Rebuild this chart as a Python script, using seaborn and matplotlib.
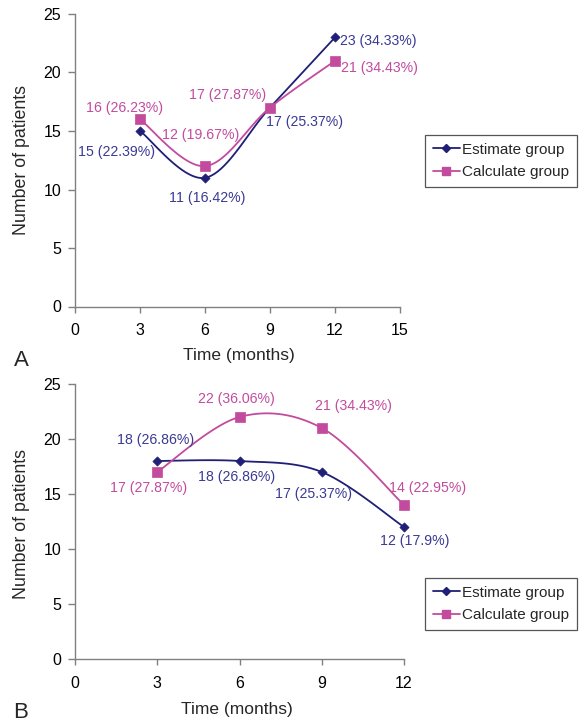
import numpy as np
import matplotlib
matplotlib.use("Agg")
import matplotlib.pyplot as plt
import seaborn as sns
from matplotlib.lines import Line2D

# ---------------- data ----------------
months = [3, 6, 9, 12]
series_names = ["Estimate group", "Calculate group"]

a_estimate = [15, 11, 17, 23]
a_calculate = [16, 12, 17, 21]
a_estimate_labels = ["15 (22.39%)", "11 (16.42%)", "17 (25.37%)", "23 (34.33%)"]
a_calculate_labels = ["16 (26.23%)", "12 (19.67%)", "17 (27.87%)", "21 (34.43%)"]

b_estimate = [18, 18, 17, 12]
b_calculate = [17, 22, 21, 14]
b_estimate_labels = ["18 (26.86%)", "18 (26.86%)", "17 (25.37%)", "12 (17.9%)"]
b_calculate_labels = ["17 (27.87%)", "22 (36.06%)", "21 (34.43%)", "14 (22.95%)"]

x_label = "Time (months)"
y_label = "Number of patients"

# ---------------- style ----------------
sns.set_theme(style="white")
plt.rcParams["font.family"] = ["Liberation Sans", "DejaVu Sans"]

NAVY = "#1f1f78"
NAVY_TXT = "#3a3a94"
MAG = "#c24b9e"
MAG_TXT = "#c24b9e"
GRAY = "#808080"

W, H = 582, 722
fig = plt.figure(figsize=(W / 100, H / 100), dpi=100)

axA = fig.add_axes([75 / W, 1 - 306.5 / H, (400 - 75) / W, (306.5 - 14) / H])
axB = fig.add_axes([75 / W, 1 - 659 / H, (404 - 75) / W, (659 - 384) / H])


def smooth(xs, ys, n=40):
    """Excel-like smoothed line (Catmull-Rom Bezier) through the data points."""
    P = np.column_stack([xs, ys]).astype(float)
    E = np.vstack([P[0], P, P[-1]])
    out = []
    t = np.linspace(0, 1, n)[:, None]
    for i in range(len(P) - 1):
        p0, p1, p2, p3 = E[i], E[i + 1], E[i + 2], E[i + 3]
        c1 = p1 + (p2 - p0) / 6
        c2 = p2 - (p3 - p1) / 6
        seg = (1 - t) ** 3 * p1 + 3 * (1 - t) ** 2 * t * c1 + 3 * (1 - t) * t ** 2 * c2 + t ** 3 * p2
        out.append(seg if i == 0 else seg[1:])
    return np.vstack(out)


def draw_series(ax, xs, ys, color, marker, msize):
    curve = smooth(xs, ys)
    sns.lineplot(x=curve[:, 0], y=curve[:, 1], sort=False, estimator=None,
                 color=color, linewidth=1.3, ax=ax, clip_on=False)
    sns.scatterplot(x=xs, y=ys, marker=marker, s=msize, color=color,
                    edgecolor=color, linewidth=0.5, ax=ax, zorder=5, clip_on=False)


def label_series(ax, xs, ys, labels, offsets, color):
    for x, y, lab, (dx, dy) in zip(xs, ys, labels, offsets):
        ax.annotate(lab, xy=(x, y), xytext=(dx, dy), textcoords="offset pixels",
                    ha="center", va="center", fontsize=10.2, color=color,
                    annotation_clip=False)


def style_axes(ax, xmax, xlab_xy, ylab_xy):
    ax.set_xlim(0, xmax)
    ax.set_ylim(0, 25)
    ax.set_xticks(range(0, xmax + 1, 3))
    ax.set_yticks(range(0, 26, 5))
    for s in ["top", "right"]:
        ax.spines[s].set_visible(False)
    for s in ["left", "bottom"]:
        ax.spines[s].set_color(GRAY)
        ax.spines[s].set_linewidth(1.0)
    ax.tick_params(axis="both", which="major", direction="out", color=GRAY,
                   labelsize=11.5, labelcolor="black", width=1.0,
                   bottom=True, left=True)
    ax.tick_params(axis="x", length=4, pad=8)
    ax.tick_params(axis="y", length=5, pad=5)
    ax.set_xlabel(x_label, fontsize=12.5, va="center")
    ax.set_ylabel(y_label, fontsize=12.8, va="center")
    ax.xaxis.set_label_coords(*xlab_xy)
    ax.yaxis.set_label_coords(*ylab_xy)
    ax.set_facecolor("white")


def add_legend(top_px):
    handles = [
        Line2D([0], [0], color=NAVY, lw=1.3, marker="D", markersize=4.3),
        Line2D([0], [0], color=MAG, lw=1.3, marker="s", markersize=6),
    ]
    leg = fig.legend(handles, series_names, loc="upper left",
                     bbox_to_anchor=(425 / W, 1 - top_px / H),
                     bbox_transform=fig.transFigure, frameon=True, fancybox=False,
                     edgecolor="#555555", framealpha=1, fontsize=11,
                     handlelength=1.8, handletextpad=0.15, borderpad=0.5,
                     labelspacing=0.55, borderaxespad=0)
    leg.get_frame().set_linewidth(0.9)


# ---------------- panel A ----------------
draw_series(axA, months, a_estimate, NAVY, "D", 22)
draw_series(axA, months, a_calculate, MAG, "s", 42)
label_series(axA, months, a_estimate, a_estimate_labels,
             [(-24, -21), (2, -20), (35, -14), (43, -4)], NAVY_TXT)
label_series(axA, months, a_calculate, a_calculate_labels,
             [(-15, 11), (-4, 31), (-42, 13), (44, -7)], MAG_TXT)
style_axes(axA, 15, (0.505, -0.169), (-0.166, 0.5))
add_legend(135)

# ---------------- panel B ----------------
draw_series(axB, months, b_estimate, NAVY, "D", 22)
draw_series(axB, months, b_calculate, MAG, "s", 42)
label_series(axB, months, b_estimate, b_estimate_labels,
             [(-2, 21), (-3, -16), (-8, -22), (11, -14)], NAVY_TXT)
label_series(axB, months, b_calculate, b_calculate_labels,
             [(-9, -16), (-3, 18), (32, 22), (24, 17)], MAG_TXT)
style_axes(axB, 12, (0.492, -0.185), (-0.164, 0.49))
add_legend(578)

fig.text(21 / W, 1 - 360 / H, "A", fontsize=16, ha="center", va="center")
fig.text(21 / W, 1 - 712 / H, "B", fontsize=16, ha="center", va="center")

fig.savefig("out.png", dpi=100, facecolor="white")
